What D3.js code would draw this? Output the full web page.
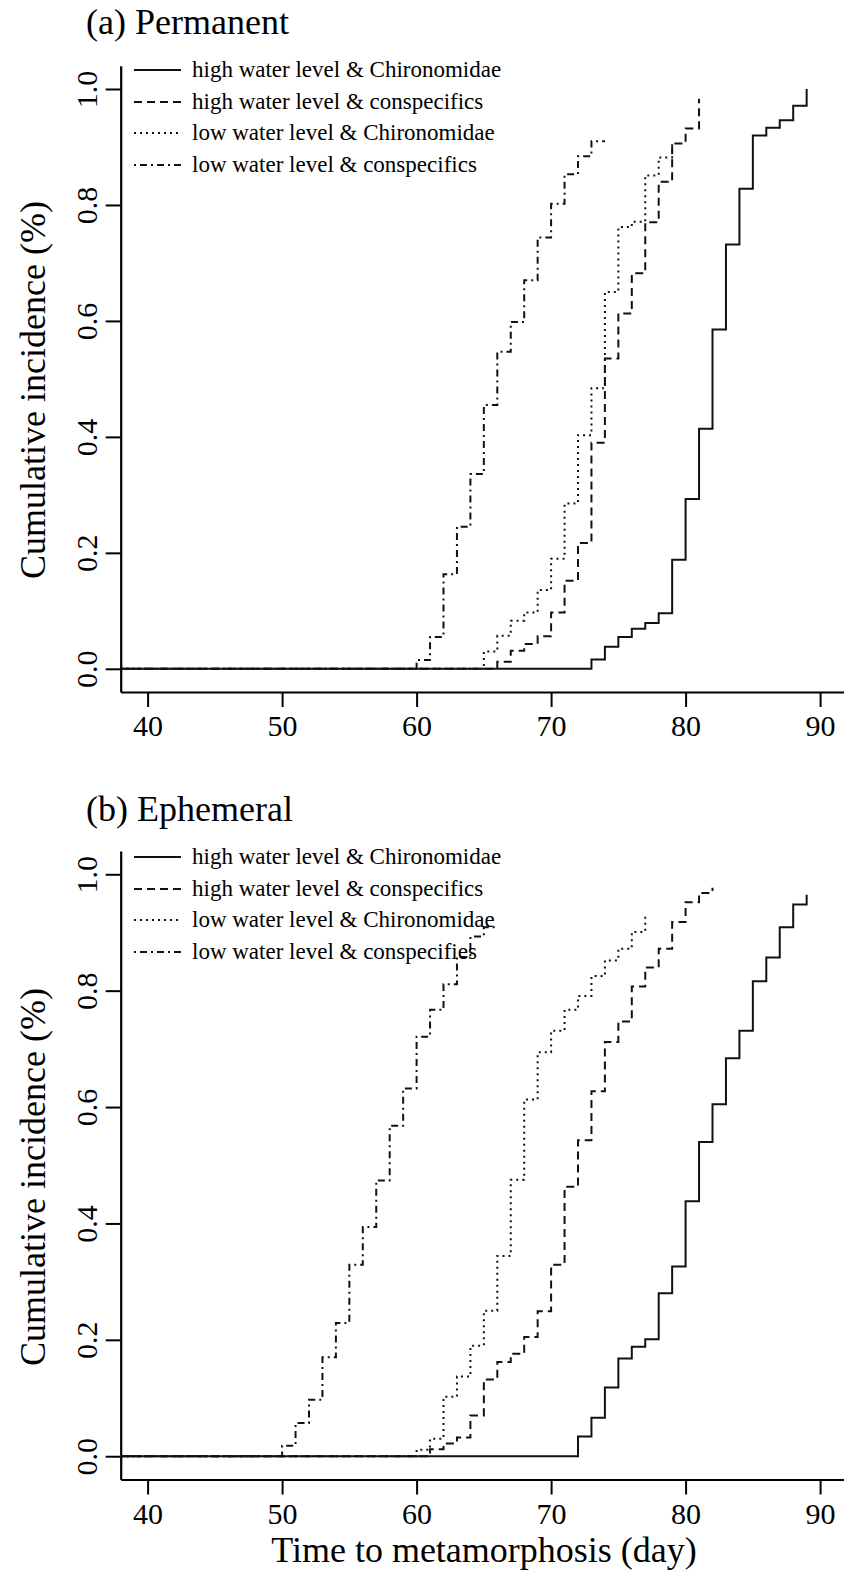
<!DOCTYPE html>
<html>
<head>
<meta charset="utf-8">
<script src="https://cdn.jsdelivr.net/npm/d3@7"></script>
<style>
  html, body { margin: 0; padding: 0; background: #fff; }
  svg { display: block; }
  text { font-family: "Liberation Serif", "Times New Roman", serif; fill: #000; }
</style>
</head>
<body>
<svg id="chart"></svg>
<script>
const W = 844, H = 1573;

const xTicks = [40, 50, 60, 70, 80, 90];
const yTicks = [0, 0.2, 0.4, 0.6, 0.8, 1.0];

const legendLabelsA = ["high water level & Chironomidae", "high water level & conspecifics",
                       "low water level & Chironomidae", "low water level & conspecifics"];
const legendLabelsB = ["high water level & Chironomidae", "high water level & conspecifics",
                       "low water level & Chironomidae", "low water level & conspecifies"];

// (a) Permanent
const permHighChiroDays = [73, 74, 75, 76, 77, 78, 79, 80, 81, 82, 83, 84, 85, 86, 87, 88, 89];
const permHighChiroCI   = [0.016, 0.038, 0.055, 0.069, 0.079, 0.096, 0.188, 0.293, 0.414, 0.585, 0.732, 0.828, 0.920, 0.933, 0.946, 0.971, 1.0];
const permHighConsDays  = [66, 67, 68, 69, 70, 71, 72, 73, 74, 75, 76, 77, 78, 79, 80, 81];
const permHighConsCI    = [0.012, 0.031, 0.043, 0.056, 0.097, 0.152, 0.217, 0.390, 0.535, 0.613, 0.682, 0.770, 0.840, 0.906, 0.932, 0.983];
const permLowChiroDays  = [65, 66, 67, 68, 69, 70, 71, 72, 73, 74, 75, 76, 77, 78, 79];
const permLowChiroCI    = [0.030, 0.057, 0.083, 0.097, 0.136, 0.190, 0.285, 0.403, 0.484, 0.650, 0.762, 0.771, 0.851, 0.882, 0.910];
const permLowConsDays   = [60, 61, 62, 63, 64, 65, 66, 67, 68, 69, 70, 71, 72, 73, 74];
const permLowConsCI     = [0.015, 0.055, 0.163, 0.245, 0.336, 0.455, 0.547, 0.598, 0.670, 0.744, 0.802, 0.853, 0.884, 0.910, 0.910];

// (b) Ephemeral
const ephHighChiroDays = [72, 73, 74, 75, 76, 77, 78, 79, 80, 81, 82, 83, 84, 85, 86, 87, 88, 89];
const ephHighChiroCI   = [0.034, 0.066, 0.118, 0.168, 0.188, 0.201, 0.280, 0.326, 0.438, 0.540, 0.605, 0.684, 0.731, 0.816, 0.857, 0.909, 0.948, 0.965];
const ephHighConsDays  = [61, 62, 63, 64, 65, 66, 67, 68, 69, 70, 71, 72, 73, 74, 75, 76, 77, 78, 79, 80, 81, 82];
const ephHighConsCI    = [0.012, 0.022, 0.032, 0.070, 0.132, 0.162, 0.176, 0.205, 0.249, 0.329, 0.463, 0.543, 0.627, 0.712, 0.747, 0.807, 0.840, 0.872, 0.918, 0.952, 0.968, 0.977];
const ephLowChiroDays  = [60, 61, 62, 63, 64, 65, 66, 67, 68, 69, 70, 71, 72, 73, 74, 75, 76, 77];
const ephLowChiroCI    = [0.011, 0.030, 0.102, 0.137, 0.190, 0.250, 0.344, 0.475, 0.613, 0.694, 0.731, 0.767, 0.791, 0.825, 0.852, 0.872, 0.901, 0.930];
const ephLowConsDays   = [50, 51, 52, 53, 54, 55, 56, 57, 58, 59, 60, 61, 62, 63, 64, 65, 66];
const ephLowConsCI     = [0.018, 0.057, 0.097, 0.170, 0.229, 0.329, 0.394, 0.474, 0.568, 0.632, 0.721, 0.767, 0.811, 0.858, 0.893, 0.909, 0.909];

const dashes = [null, "8,5", "2,4", "2,4,7,4"];

const svg = d3.select("#chart").attr("width", W).attr("height", H);

const x = d3.scaleLinear().domain([38, 92]).range([120.7, 847]);

const panels = [
  { title: "(a) Permanent", titleY: 34, yRange: [692, 65.8], rows: [70, 102, 133, 165], labY: 390,
    labels: legendLabelsA,
    series: [[permHighChiroDays, permHighChiroCI], [permHighConsDays, permHighConsCI],
             [permLowChiroDays, permLowChiroCI], [permLowConsDays, permLowConsCI]] },
  { title: "(b) Ephemeral", titleY: 821, yRange: [1479.5, 851], rows: [857, 889, 920, 952], labY: 1177,
    labels: legendLabelsB,
    series: [[ephHighChiroDays, ephHighChiroCI], [ephHighConsDays, ephHighConsCI],
             [ephLowChiroDays, ephLowChiroCI], [ephLowConsDays, ephLowConsCI]] }
];

panels.forEach((p, pi) => {
  const y = d3.scaleLinear().domain([-0.04, 1.04]).range(p.yRange);
  const g = svg.append("g");

  const clipId = "clip" + pi;
  g.append("clipPath").attr("id", clipId)
    .append("rect")
    .attr("x", x.range()[0]).attr("y", p.yRange[1])
    .attr("width", x.range()[1] - x.range()[0])
    .attr("height", p.yRange[0] - p.yRange[1]);

  // step curves
  const line = d3.line()
    .x(d => x(d[0]))
    .y(d => y(d[1]))
    .curve(d3.curveStepAfter);

  p.series.forEach(([days, ci], i) => {
    const pts = [[x.domain()[0], 0]].concat(days.map((d, j) => [d, ci[j]]));
    g.append("path")
      .datum(pts)
      .attr("clip-path", `url(#${clipId})`)
      .attr("fill", "none")
      .attr("stroke", "#111")
      .attr("stroke-width", 2)
      .attr("stroke-dasharray", dashes[i])
      .attr("d", line);
  });

  // axes
  const xAxis = g.append("g")
    .attr("transform", `translate(0,${p.yRange[0]})`)
    .call(d3.axisBottom(x).tickValues(xTicks).tickSize(15).tickSizeOuter(0).tickPadding(0));
  xAxis.select(".domain").attr("stroke", "#000").attr("stroke-width", 2.2);
  xAxis.selectAll(".tick line").attr("stroke", "#000").attr("stroke-width", 2);
  xAxis.selectAll(".tick text")
    .attr("y", 44).attr("dy", null)
    .style("font-size", "30px")
    .style("font-family", '"Liberation Serif", "Times New Roman", serif');

  const yAxis = g.append("g")
    .attr("transform", `translate(${x.range()[0]},0)`)
    .call(d3.axisLeft(y).tickValues(yTicks).tickFormat(d3.format(".1f")).tickSize(15).tickSizeOuter(0));
  yAxis.select(".domain").attr("stroke", "#000").attr("stroke-width", 2.2);
  yAxis.selectAll(".tick line").attr("stroke", "#000").attr("stroke-width", 2);
  yAxis.selectAll(".tick text")
    .attr("x", null).attr("dy", null)
    .attr("transform", "translate(-24,0) rotate(-90)")
    .attr("text-anchor", "middle")
    .style("font-size", "30px")
    .style("font-family", '"Liberation Serif", "Times New Roman", serif');

  // title
  g.append("text")
    .attr("x", 86).attr("y", p.titleY)
    .style("font-size", "36px")
    .text(p.title);

  // y label
  g.append("text")
    .attr("transform", `translate(45,${p.labY}) rotate(-90)`)
    .attr("text-anchor", "middle")
    .style("font-size", "36px")
    .text("Cumulative incidence (%)");

  // legend
  p.labels.forEach((lab, i) => {
    g.append("line")
      .attr("x1", 134).attr("x2", 181)
      .attr("y1", p.rows[i]).attr("y2", p.rows[i])
      .attr("stroke", "#111").attr("stroke-width", 2)
      .attr("stroke-dasharray", dashes[i]);
    g.append("text")
      .attr("x", 192).attr("y", p.rows[i] + 7)
      .style("font-size", "23px")
      .text(lab);
  });
});

svg.append("text")
  .attr("x", 484).attr("y", 1562)
  .attr("text-anchor", "middle")
  .style("font-size", "36px")
  .text("Time to metamorphosis (day)");
</script>
</body>
</html>
